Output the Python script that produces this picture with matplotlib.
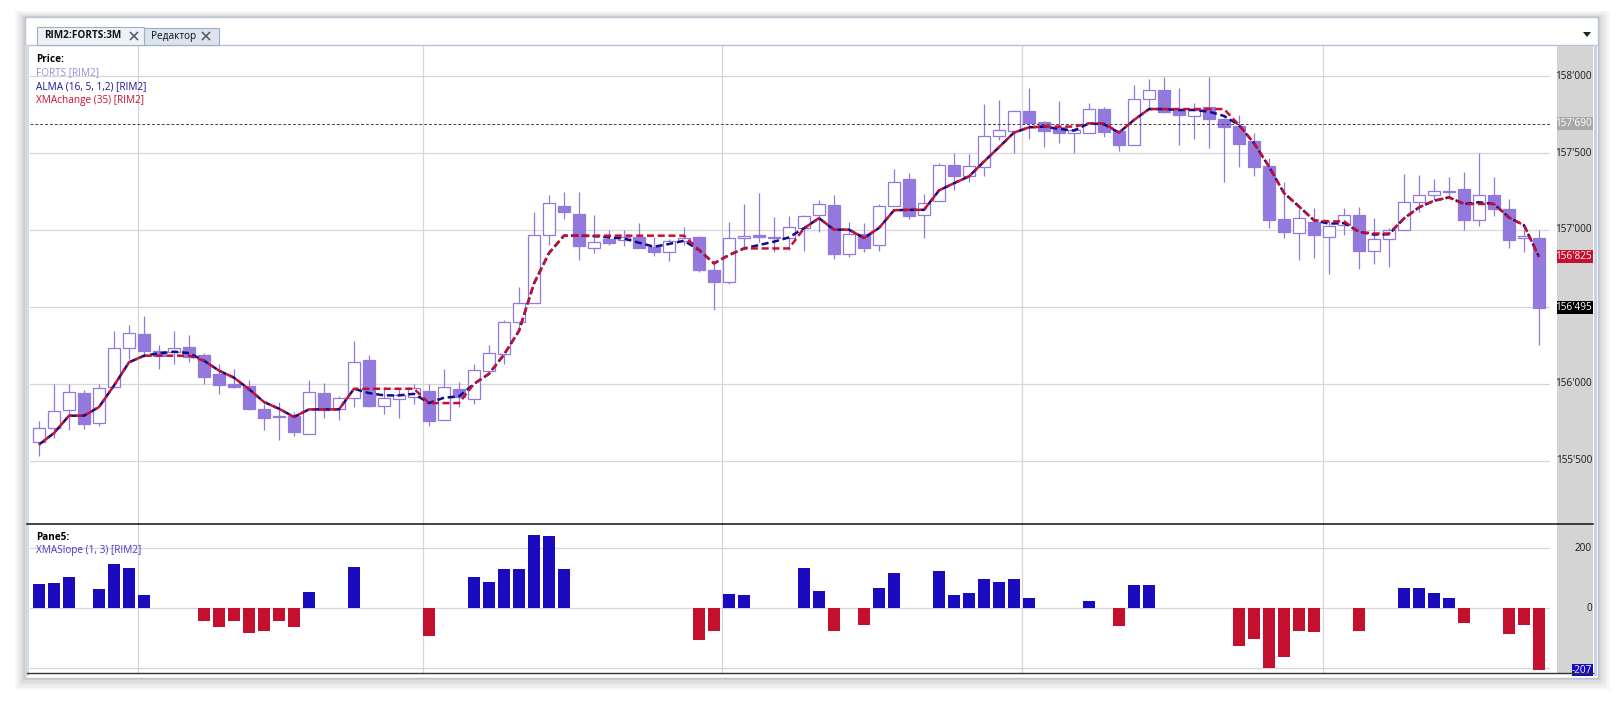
import matplotlib
matplotlib.use('Agg')
import matplotlib.pyplot as plt
from matplotlib.patches import Rectangle, Polygon
from matplotlib.lines import Line2D
import matplotlib.transforms as mtransforms
import numpy as np

plt.rcParams['font.family'] = ['Open Sans', 'DejaVu Sans']

# ---------------- data ----------------
opens = [155620, 155710, 155832, 155942, 155748, 155981, 156233, 156325, 156211, 156205,
         156239, 156190, 156065, 155996, 155989, 155838, 155793, 155793, 155677, 155943,
         155836, 155906, 156152, 155855, 155900, 155914, 155956, 155764, 155967, 155901,
         156084, 156196, 156403, 156523, 156967, 157159, 157104, 156885, 156939, 156935,
         156952, 156891, 156859, 156930, 156952, 156739, 156663, 156950, 156965, 156946,
         156946, 157011, 157098, 157164, 156844, 156976, 156903, 157153, 157333, 157097,
         157188, 157421, 157348, 157412, 157609, 157641, 157771, 157700, 157672, 157633,
         157628, 157784, 157646, 157551, 157853, 157907, 157780, 157743, 157797, 157719,
         157676, 157579, 157417, 157071, 156980, 157052, 156955, 157030, 157095, 156863,
         156944, 156999, 157180, 157225, 157245, 157265, 157068, 157225, 157134, 156951,
         156951]
highs = [155760, 155998, 155998, 155961, 155998, 156341, 156384, 156440, 156252, 156341,
         156317, 156200, 156129, 156095, 156022, 155871, 155882, 155817, 156022, 156008,
         155920, 156281, 156185, 155978, 155975, 156000, 156000, 156098, 156012, 156130,
         156250, 156414, 156627, 157116, 157229, 157246, 157246, 157096, 157000, 157000,
         157043, 156956, 156939, 157022, 156960, 156783, 157050, 157167, 157239, 157083,
         157091, 157098, 157196, 157229, 157052, 157045, 157168, 157397, 157369, 157233,
         157434, 157499, 157492, 157819, 157842, 157780, 157920, 157708, 157836, 157660,
         157827, 157801, 157650, 157942, 157981, 157996, 157920, 157823, 157996, 157725,
         157747, 157628, 157466, 157315, 157138, 157142, 157056, 157142, 157147, 157081,
         157016, 157363, 157356, 157330, 157347, 157380, 157500, 157347, 157199, 157000,
         157000]
lows = [155530, 155650, 155703, 155709, 155726, 155981, 156162, 156172, 156099, 156132,
        156142, 156000, 155933, 155975, 155827, 155703, 155638, 155660, 155677, 155781,
        155764, 155847, 155847, 155803, 155780, 155866, 155727, 155764, 155847, 155869,
        156084, 156130, 156348, 156523, 156902, 157072, 156804, 156848, 156902, 156896,
        156880, 156830, 156798, 156902, 156728, 156483, 156652, 156891, 156924, 156859,
        156870, 156863, 156989, 156812, 156823, 156855, 156862, 157153, 157071, 156948,
        157188, 157261, 157309, 157348, 157585, 157503, 157594, 157542, 157564, 157499,
        157628, 157603, 157514, 157551, 157780, 157758, 157551, 157590, 157531, 157309,
        157412, 157348, 157013, 156948, 156808, 156818, 156715, 156968, 156748, 156781,
        156759, 156999, 157118, 157195, 157217, 157003, 157027, 157090, 156883, 156857,
        156251]
closes = [155710, 155825, 155948, 155741, 155974, 156233, 156330, 156211, 156183, 156233,
          156175, 156043, 155991, 155979, 155836, 155778, 155782, 155688, 155950, 155832,
          155906, 156143, 155853, 155906, 155930, 155974, 155760, 155978, 155912, 156091,
          156202, 156403, 156523, 156967, 157177, 157116, 156898, 156920, 156917, 156957,
          156880, 156859, 156930, 156950, 156743, 156663, 156946, 156963, 156952, 156957,
          157017, 157089, 157167, 156844, 156976, 156881, 157158, 157311, 157088, 157175,
          157421, 157348, 157415, 157609, 157648, 157771, 157698, 157646, 157628, 157650,
          157784, 157639, 157551, 157849, 157907, 157769, 157749, 157780, 157724, 157672,
          157562, 157412, 157067, 156985, 157078, 156965, 157028, 157097, 156863, 156944,
          156999, 157180, 157225, 157251, 157253, 157064, 157225, 157134, 156938, 156962,
          156495]

xma = [155605, 155680, 155793, 155793, 155849, 155989, 156140, 156183, 156183, 156183,
       156183, 156150, 156086, 156040, 155965, 155882, 155838, 155785, 155834, 155834,
       155834, 155968, 155968, 155968, 155968, 155968, 155875, 155875, 155875, 156000,
       156065, 156190, 156345, 156653, 156850, 156963, 156963, 156963, 156963, 156963,
       156963, 156963, 156963, 156963, 156870, 156783, 156837, 156880, 156880, 156880,
       156880, 157011, 157077, 157002, 157002, 156948, 157013, 157128, 157131, 157131,
       157257, 157304, 157348, 157445, 157538, 157633, 157667, 157672, 157672, 157672,
       157693, 157693, 157633, 157715, 157786, 157786, 157786, 157786, 157786, 157786,
       157682, 157564, 157412, 157240, 157153, 157063, 157056, 157056, 156988, 156977,
       156977, 157075, 157147, 157190, 157212, 157169, 157169, 157169, 157081, 157031,
       156825]
alma = [155605, 155680, 155793, 155793, 155849, 155989, 156140, 156183, 156198, 156209,
        156200, 156150, 156086, 156040, 155965, 155882, 155838, 155785, 155834, 155834,
        155834, 155968, 155940, 155925, 155925, 155935, 155875, 155910, 155918, 156000,
        156065, 156190, 156345, 156653, 156850, 156963, 156963, 156960, 156952, 156945,
        156917, 156891, 156909, 156930, 156870, 156783, 156837, 156880, 156902, 156924,
        156952, 157011, 157077, 157002, 157002, 156948, 157013, 157128, 157131, 157131,
        157257, 157304, 157348, 157445, 157538, 157633, 157667, 157672, 157657, 157646,
        157693, 157687, 157633, 157715, 157786, 157786, 157780, 157780, 157769, 157741,
        157682, 157564, 157412, 157240, 157153, 157063, 157041, 157045, 156988, 156970,
        156972, 157075, 157147, 157190, 157212, 157169, 157180, 157169, 157081, 157031,
        156825]

slope = [80, 84, 103, 0, 64, 146, 133, 44, 0, 0,
         0, -44, -64, -44, -84, -77, -44, -64, 54, 0,
         0, 136, 0, 0, 0, 0, -92, 0, 0, 104,
         87, 131, 131, 244, 241, 131, 0, 0, 0, 0,
         0, 0, 0, 0, -105, -75, 49, 45, 0, 0,
         0, 135, 59, -75, 0, -55, 69, 116, 0, 0,
         124, 45, 52, 99, 87, 96, 35, 0, 0, 0,
         25, 0, -60, 76, 76, 0, 0, 0, 0, 0,
         -126, -103, -198, -164, -75, -78, 0, 0, -75, 0,
         0, 66, 66, 52, 35, -50, 0, 0, -85, -55,
         -207]

price_ticks = [155500, 156000, 156500, 157000, 157500, 158000]
slope_ticks = [200, 0]
day_breaks = [6.57, 25.57, 45.55, 65.53, 85.63]
last_line_level = 157690
xma_last = 156825
close_last = 156495
slope_last = -207

# ---------------- figure ----------------
W, H = 1624, 701
fig = plt.figure(figsize=(W / 100, H / 100), dpi=100)
fig.patch.set_facecolor('white')


def fx(x):
    return x / W


def fy(y):
    return 1 - y / H


def frect(x0, y0, x1, y1, **kw):
    r = Rectangle((fx(x0), fy(y1)), (x1 - x0) / W, (y1 - y0) / H,
                  transform=fig.transFigure, **kw)
    fig.add_artist(r)
    return r


def fline(x0, y0, x1, y1, **kw):
    fig.add_artist(Line2D([fx(x0), fx(x1)], [fy(y0), fy(y1)],
                          transform=fig.transFigure, **kw))


# shadow around the window
for k, a in enumerate([0.05, 0.06, 0.07, 0.08, 0.1]):
    d = 12 - 2.5 * k
    frect(25 - d * 0.8, 17 - d * 0.5, 1598 + d, 678 + d, facecolor='#707070',
          edgecolor='none', alpha=a, zorder=0)
frect(25, 17, 1598, 678, facecolor='white', edgecolor='#b9c5d3', lw=1, zorder=0.5)

# tab strip
fline(26, 45, 1597, 45, color='#b3c1d3', lw=1, zorder=1)
frect(37, 27, 144, 45, facecolor='#edf2f9', edgecolor='#9fb0c6', lw=0.8, zorder=1.2)
frect(144, 28, 219, 45, facecolor='#dbe3ed', edgecolor='#9fb0c6', lw=0.8, zorder=1.1)
fig.text(fx(44), fy(36), 'RIM2:FORTS:3M', fontsize=7.2, fontweight='bold',
         ha='left', va='center', color='#111111', zorder=3)
fig.text(fx(151), fy(36.5), 'Редактор', fontsize=7.2, ha='left', va='center',
         color='#111111', zorder=3)
for cx in (134, 206):
    fline(cx - 3.5, 32.5, cx + 3.5, 39.5, color='#555555', lw=1.1, zorder=3)
    fline(cx - 3.5, 39.5, cx + 3.5, 32.5, color='#555555', lw=1.1, zorder=3)
fig.add_artist(Polygon([[fx(1583), fy(32)], [fx(1591), fy(32)], [fx(1587), fy(37)]],
                       closed=True, transform=fig.transFigure, facecolor='#222222',
                       edgecolor='none', zorder=3))

# left frame bar and right axis strip
frect(25, 45, 29.5, 676, facecolor='#d2dae4', edgecolor='none', zorder=1)
frect(1557, 46, 1593, 673, facecolor='#d4d4d4', edgecolor='none', zorder=1)
frect(1594.5, 45, 1597.5, 676, facecolor='#c8d4e4', edgecolor='none', zorder=1)

PX0, PX1 = 30, 1550
xlo = (PX0 - 39) / 15
xhi = (PX1 - 39) / 15

# ---------------- price pane ----------------
ax1 = fig.add_axes([fx(PX0), fy(524), (PX1 - PX0) / W, (524 - 45.5) / H])
ax1.set_xlim(xlo, xhi)
ax1.set_ylim(155089, 158199)
ax1.set_facecolor('none')
for s in ax1.spines.values():
    s.set_visible(False)
ax1.set_xticks([])
ax1.set_yticks([])
ax1.set_zorder(2)

grid_c = '#d6d6d6'
for v in price_ticks:
    ax1.axhline(v, color=grid_c, lw=0.9, zorder=1)
for b in day_breaks:
    ax1.axvline(b, color=grid_c, lw=0.9, zorder=1)

purple = '#9378dd'
bw = 0.83
idx = np.arange(len(closes))
for i in idx:
    o, h, l, c = opens[i], highs[i], lows[i], closes[i]
    ax1.plot([i, i], [l, h], color=purple, lw=0.9, zorder=2, solid_capstyle='butt')
    lo_b, hi_b = min(o, c), max(o, c)
    hgt = max(hi_b - lo_b, 8)
    if c >= o:
        ax1.add_patch(Rectangle((i - bw / 2, lo_b), bw, hgt, facecolor='white',
                                edgecolor=purple, lw=0.9, zorder=3))
    else:
        ax1.add_patch(Rectangle((i - bw / 2, lo_b), bw, hgt, facecolor=purple,
                                edgecolor=purple, lw=0.9, zorder=3))

ax1.axhline(last_line_level, color='#444444', lw=0.7, ls=(0, (3, 2)), zorder=4)
ax1.plot(idx, alma, color='#0c0c8c', lw=1.8, ls=(0, (2.8, 1.5)), zorder=5,
         dash_capstyle='butt')
ax1.plot(idx, xma, color='#c8102e', lw=1.8, ls=(2.1, (2.8, 1.5)), zorder=6,
         dash_capstyle='butt')

tr1 = mtransforms.blended_transform_factory(fig.transFigure, ax1.transData)
for v in price_ticks:
    ax1.text(fx(1592), v, f"{v:,}".replace(',', "'"), transform=tr1, ha='right',
             va='center', fontsize=7.2, color='#1a1a1a', clip_on=False, zorder=10)

ypx = (158199 - 155089) / (524 - 45.5)
for v, bg in ((last_line_level, '#a9a9a9'), (xma_last, '#c8102e'), (close_last, '#000000')):
    ax1.add_patch(Rectangle((fx(1557), v - 6.5 * ypx), 36 / W, 13 * ypx, transform=tr1,
                            facecolor=bg, edgecolor='none', clip_on=False, zorder=11))
    ax1.text(fx(1592), v, f"{v:,}".replace(',', "'"), transform=tr1, ha='right',
             va='center', fontsize=7.2, color='white', clip_on=False, zorder=12)

# legend texts
fig.text(fx(36), fy(60), 'Price:', fontsize=7.2, fontweight='bold', ha='left',
         va='center', color='#000000', zorder=20)
fig.text(fx(36), fy(72.5), 'FORTS [RIM2]', fontsize=7.2, ha='left', va='center',
         color='#9d8ae2', zorder=20)
fig.text(fx(36), fy(86.5), 'ALMA (16, 5, 1,2) [RIM2]', fontsize=7.2, ha='left',
         va='center', color='#1b1590', zorder=20)
fig.text(fx(36), fy(100), 'XMAchange (35) [RIM2]', fontsize=7.2, ha='left',
         va='center', color='#c8102e', zorder=20)

# ---------------- slope pane ----------------
ax2 = fig.add_axes([fx(PX0), fy(672.7), (PX1 - PX0) / W, (672.7 - 524) / H])
ax2.set_xlim(xlo, xhi)
ax2.set_ylim(-215, 281)
ax2.set_facecolor('none')
for s in ax2.spines.values():
    s.set_visible(False)
ax2.set_xticks([])
ax2.set_yticks([])
ax2.set_zorder(2)
for v in (200, 0, -200):
    ax2.axhline(v, color=grid_c, lw=0.9, zorder=1)
for b in day_breaks:
    ax2.axvline(b, color=grid_c, lw=0.9, zorder=1)
cols = ['#1b0bbe' if v > 0 else '#c50f2f' for v in slope]
ax2.bar(idx, slope, width=0.8, color=cols, zorder=3)

tr2 = mtransforms.blended_transform_factory(fig.transFigure, ax2.transData)
for v in slope_ticks:
    ax2.text(fx(1592), v, str(v), transform=tr2, ha='right', va='center',
             fontsize=7.2, color='#1a1a1a', clip_on=False, zorder=10)
vpx = (281 + 215) / (672.7 - 524)
ax2.add_patch(Rectangle((fx(1572), slope_last - 6 * vpx), 21 / W, 12 * vpx, transform=tr2,
                        facecolor='#1b0bbe', edgecolor='none', clip_on=False, zorder=11))
ax2.text(fx(1592), slope_last, str(slope_last), transform=tr2, ha='right', va='center',
         fontsize=7.2, color='white', clip_on=False, zorder=12)

fig.text(fx(36), fy(537), 'Pane5:', fontsize=7.2, fontweight='bold', ha='left',
         va='center', color='#000000', zorder=20)
fig.text(fx(36), fy(551), 'XMASlope (1, 3) [RIM2]', fontsize=7.2, ha='left',
         va='center', color='#4a36cc', zorder=20)

# pane separators
fline(27, 524, 1593, 524, color='#111111', lw=1.1, zorder=15)
fline(27, 673.3, 1593, 673.3, color='#333333', lw=1.0, zorder=15)

fig.savefig('out.png', dpi=100, facecolor='white')
